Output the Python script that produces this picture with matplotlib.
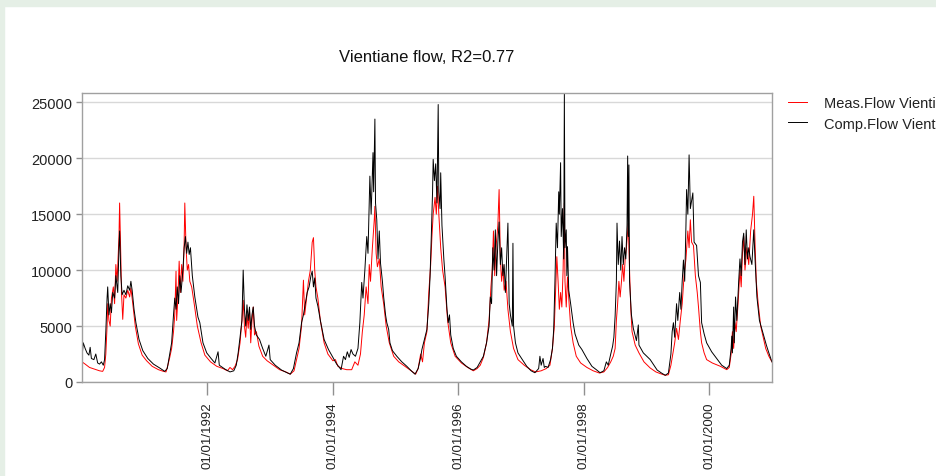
#!/usr/bin/env python3

import datetime as dt
import numpy as np
import matplotlib
matplotlib.use('Agg')
from matplotlib import pyplot as plt
import matplotlib.dates as mdates
from matplotlib.patches import Rectangle

plt.rcParams['font.family'] = ['Liberation Sans', 'DejaVu Sans']

TITLE = 'Vientiane flow, R2=0.77'
LABELS = ['Meas.Flow Vientiane', 'Comp.Flow Vientiane']
YTICKS = [0, 5000, 10000, 15000, 20000, 25000]
XTICK_YEARS = [1992, 1994, 1996, 1998, 2000]

meas_t = [1990.00, 1990.05, 1990.12, 1990.20, 1990.28, 1990.33, 1990.36, 1990.38, 1990.40, 1990.41, 1990.43, 1990.45, 1990.47, 1990.50, 1990.52, 1990.54, 1990.56, 1990.59, 1990.60, 1990.62, 1990.63, 1990.65, 1990.67, 1990.70, 1990.73, 1990.76, 1990.78, 1990.81, 1990.85, 1990.90, 1990.96,
          1991.03, 1991.12, 1991.22, 1991.30, 1991.34, 1991.37, 1991.40, 1991.43, 1991.46, 1991.48, 1991.50, 1991.51, 1991.53, 1991.55, 1991.57, 1991.59, 1991.61, 1991.63, 1991.64, 1991.66, 1991.68, 1991.70, 1991.72, 1991.75, 1991.79, 1991.84, 1991.90, 1991.96,
          1992.05, 1992.15, 1992.25, 1992.32, 1992.36, 1992.40, 1992.44, 1992.48, 1992.52, 1992.55, 1992.57, 1992.59, 1992.61, 1992.63, 1992.65, 1992.67, 1992.69, 1992.71, 1992.73, 1992.75, 1992.78, 1992.82, 1992.88, 1992.95,
          1993.05, 1993.15, 1993.25, 1993.32, 1993.38, 1993.42, 1993.46, 1993.50, 1993.53, 1993.55, 1993.58, 1993.61, 1993.64, 1993.67, 1993.69, 1993.71, 1993.73, 1993.76, 1993.80, 1993.86, 1993.92,
          1994.00, 1994.04, 1994.08, 1994.15, 1994.22, 1994.30, 1994.35, 1994.40, 1994.44, 1994.47, 1994.50, 1994.53, 1994.56, 1994.58, 1994.60, 1994.63, 1994.66, 1994.67, 1994.69, 1994.71, 1994.74, 1994.77, 1994.81, 1994.85, 1994.90, 1994.97,
          1995.05, 1995.15, 1995.25, 1995.32, 1995.36, 1995.40, 1995.43, 1995.46, 1995.50, 1995.53, 1995.56, 1995.58, 1995.60, 1995.63, 1995.65, 1995.67, 1995.69, 1995.72, 1995.75, 1995.79, 1995.83, 1995.88, 1995.95,
          1996.05, 1996.15, 1996.24, 1996.30, 1996.35, 1996.40, 1996.45, 1996.49, 1996.52, 1996.54, 1996.56, 1996.58, 1996.60, 1996.63, 1996.65, 1996.67, 1996.69, 1996.71, 1996.73, 1996.76, 1996.79, 1996.83, 1996.88, 1996.95,
          1997.05, 1997.15, 1997.23, 1997.32, 1997.40, 1997.46, 1997.50, 1997.53, 1997.55, 1997.57, 1997.59, 1997.61, 1997.63, 1997.65, 1997.67, 1997.69, 1997.70, 1997.72, 1997.74, 1997.76, 1997.79, 1997.83, 1997.88, 1997.95,
          1998.05, 1998.15, 1998.25, 1998.32, 1998.38, 1998.43, 1998.47, 1998.50, 1998.52, 1998.54, 1998.56, 1998.58, 1998.60, 1998.62, 1998.64, 1998.66, 1998.68, 1998.71, 1998.73, 1998.75, 1998.77, 1998.82, 1998.88, 1998.96,
          1999.06, 1999.15, 1999.22, 1999.30, 1999.35, 1999.39, 1999.42, 1999.45, 1999.48, 1999.51, 1999.54, 1999.57, 1999.60, 1999.63, 1999.66, 1999.68, 1999.70, 1999.72, 1999.75, 1999.78, 1999.81, 1999.83, 1999.86, 1999.88, 1999.92, 1999.96,
          2000.05, 2000.18, 2000.28, 2000.32, 2000.35, 2000.37, 2000.39, 2000.41, 2000.43, 2000.46, 2000.49, 2000.51, 2000.53, 2000.55, 2000.57, 2000.60, 2000.63, 2000.66, 2000.69, 2000.71, 2000.73, 2000.75, 2000.78, 2000.82, 2000.86, 2000.90, 2000.95, 2000.999]
meas_q = [1800, 1600, 1300, 1150, 1000, 950, 1300, 2500, 5000, 7000, 5500, 5000, 7500, 8500, 7000, 10500, 9000, 13000, 16000, 11000, 8000, 5600, 7800, 7500, 8200, 7600, 8400, 7000, 5000, 3400, 2400,
          1900, 1400, 1100, 950, 900, 1500, 2200, 3000, 4500, 6000, 9900, 5500, 7500, 10800, 8000, 10500, 9000, 12500, 16000, 12000, 10000, 10500, 9000, 8500, 7000, 5000, 3500, 2400,
          1800, 1400, 1200, 1000, 1300, 1100, 1400, 2000, 3500, 5500, 7300, 5000, 4000, 6000, 4800, 6500, 3500, 5500, 6700, 4200, 4500, 3200, 2300, 1900,
          1500, 1100, 900, 700, 1000, 2000, 3000, 5000, 9100, 6000, 7500, 9000, 10000, 12500, 12900, 10000, 8500, 7500, 5500, 3500, 2500,
          1900, 2000, 1400, 1200, 1100, 1100, 1800, 1500, 2500, 4500, 6000, 8500, 7000, 10500, 9000, 12000, 14500, 15700, 11500, 10300, 11000, 8500, 7000, 5000, 3500, 2300,
          1800, 1400, 1000, 700, 1200, 2500, 1800, 3500, 4500, 8000, 10500, 13000, 15000, 16500, 15000, 17500, 15000, 12000, 10000, 8500, 5500, 3500, 2300,
          1700, 1300, 1000, 1200, 1500, 2200, 3500, 5500, 8500, 10000, 13500, 9500, 12000, 14000, 17200, 11000, 9000, 10500, 8200, 9000, 6500, 4500, 3000, 2000,
          1500, 1100, 900, 1000, 1200, 1500, 3000, 5000, 8000, 11200, 9000, 6500, 8000, 6700, 10000, 16000, 9000, 6700, 9400, 7500, 5000, 3500, 2300, 1700,
          1300, 1000, 800, 900, 1300, 1800, 2300, 3000, 5500, 7000, 9000, 7600, 8900, 10500, 9000, 11000, 12000, 14200, 10000, 6500, 4500, 3300, 2600, 1800,
          1250, 900, 750, 600, 650, 1500, 2500, 3500, 4800, 3800, 5500, 7000, 9500, 11000, 13500, 12000, 14500, 12500, 12200, 9500, 8000, 6700, 4500, 3500, 2600, 2000,
          1700, 1400, 1100, 1300, 2500, 4500, 3000, 5300, 4500, 7000, 10000, 8500, 11500, 13000, 10000, 12000, 10500, 13500, 15000, 16600, 12400, 9000, 7000, 5000, 4000, 3000, 2300, 1800]

# computed flow
comp_t = [1990.00, 1990.02, 1990.05, 1990.08, 1990.11, 1990.13, 1990.15, 1990.19, 1990.22, 1990.25, 1990.28, 1990.31, 1990.34, 1990.36, 1990.38, 1990.40, 1990.41, 1990.43, 1990.45, 1990.47, 1990.49, 1990.52, 1990.54, 1990.57, 1990.59, 1990.60, 1990.62, 1990.64, 1990.67, 1990.70, 1990.73, 1990.76, 1990.78, 1990.80, 1990.83, 1990.86, 1990.91, 1990.97,
          1991.05, 1991.14, 1991.24, 1991.32, 1991.36, 1991.40, 1991.43, 1991.46, 1991.48, 1991.50, 1991.52, 1991.54, 1991.56, 1991.58, 1991.61, 1991.63, 1991.65, 1991.67, 1991.69, 1991.71, 1991.73, 1991.76, 1991.80, 1991.85, 1991.88, 1991.93, 1991.99,
          1992.06, 1992.12, 1992.17, 1992.19, 1992.28, 1992.36, 1992.42, 1992.46, 1992.49, 1992.52, 1992.55, 1992.57, 1992.59, 1992.61, 1992.63, 1992.65, 1992.67, 1992.69, 1992.71, 1992.73, 1992.75, 1992.78, 1992.83, 1992.88, 1992.93, 1992.98,
          1993.00, 1993.08, 1993.18, 1993.26, 1993.32, 1993.37, 1993.42, 1993.46, 1993.50, 1993.53, 1993.56, 1993.59, 1993.62, 1993.65, 1993.67, 1993.69, 1993.71, 1993.73, 1993.76, 1993.80, 1993.86, 1993.93,
          1994.01, 1994.06, 1994.09, 1994.13, 1994.17, 1994.20, 1994.23, 1994.26, 1994.29, 1994.32, 1994.36, 1994.40, 1994.43, 1994.46, 1994.48, 1994.51, 1994.54, 1994.56, 1994.59, 1994.61, 1994.64, 1994.65, 1994.67, 1994.68, 1994.70, 1994.72, 1994.74, 1994.76, 1994.79, 1994.81, 1994.84, 1994.86, 1994.89, 1994.91, 1994.95,
          1995.02, 1995.10, 1995.18, 1995.25, 1995.31, 1995.36, 1995.40, 1995.42, 1995.46, 1995.50, 1995.53, 1995.55, 1995.57, 1995.59, 1995.60, 1995.62, 1995.64, 1995.66, 1995.68, 1995.69, 1995.71, 1995.72, 1995.74, 1995.77, 1995.79, 1995.82, 1995.84, 1995.86, 1995.88, 1995.92, 1995.97,
          1996.05, 1996.13, 1996.20, 1996.24, 1996.30, 1996.35, 1996.40, 1996.45, 1996.49, 1996.51, 1996.53, 1996.55, 1996.57, 1996.59, 1996.61, 1996.63, 1996.65, 1996.67, 1996.69, 1996.71, 1996.73, 1996.75, 1996.77, 1996.79, 1996.81, 1996.83, 1996.86, 1996.87, 1996.88, 1996.91, 1996.95,
          1997.02, 1997.09, 1997.16, 1997.22, 1997.28, 1997.30, 1997.32, 1997.35, 1997.37, 1997.39, 1997.43, 1997.47, 1997.50, 1997.52, 1997.54, 1997.56, 1997.58, 1997.60, 1997.61, 1997.63, 1997.64, 1997.66, 1997.68, 1997.69, 1997.70, 1997.72, 1997.73, 1997.74, 1997.76, 1997.79, 1997.83, 1997.86, 1997.92, 1997.97,
          1998.05, 1998.13, 1998.20, 1998.26, 1998.32, 1998.36, 1998.39, 1998.43, 1998.46, 1998.48, 1998.50, 1998.52, 1998.53, 1998.55, 1998.57, 1998.59, 1998.61, 1998.63, 1998.65, 1998.67, 1998.69, 1998.70, 1998.71, 1998.72, 1998.73, 1998.76, 1998.79, 1998.84, 1998.87, 1998.88, 1998.95,
          1999.06, 1999.12, 1999.17, 1999.24, 1999.30, 1999.35, 1999.39, 1999.41, 1999.43, 1999.45, 1999.48, 1999.50, 1999.53, 1999.55, 1999.57, 1999.59, 1999.61, 1999.63, 1999.64, 1999.66, 1999.68, 1999.70, 1999.74, 1999.76, 1999.80, 1999.83, 1999.86, 1999.88, 1999.92, 1999.96,
          2000.04, 2000.12, 2000.20, 2000.28, 2000.32, 2000.35, 2000.36, 2000.37, 2000.39, 2000.40, 2000.42, 2000.44, 2000.47, 2000.49, 2000.51, 2000.53, 2000.55, 2000.57, 2000.59, 2000.61, 2000.63, 2000.65, 2000.68, 2000.71, 2000.73, 2000.76, 2000.80, 2000.84, 2000.87, 2000.91, 2000.95, 2000.999]
comp_q = [2200, 3500, 3000, 2600, 2400, 3100, 2100, 2000, 2500, 1700, 1600, 1800, 1500, 2000, 4500, 7500, 8500, 6000, 7000, 6200, 8000, 7500, 9500, 8000, 12100, 13500, 9500, 7800, 8200, 7800, 8600, 8200, 9000, 8200, 6500, 5300, 3800, 2800,
          2100, 1600, 1250, 950, 1200, 2500, 3500, 6000, 7500, 6500, 8500, 7000, 9500, 8000, 10000, 12000, 13000, 11500, 12500, 11400, 12000, 9500, 7600, 5800, 5300, 3500, 2600,
          2100, 1700, 2700, 1500, 1150, 900, 1000, 1500, 2600, 4000, 5500, 10000, 6500, 5000, 6900, 5500, 6700, 4700, 6000, 6700, 5000, 4200, 3800, 3000, 2300, 3300,
          2000, 1500, 1070, 850, 700, 1200, 2600, 3500, 5300, 6000, 7000, 8000, 8500, 9500, 9900, 8500, 9300, 7500, 6800, 5500, 3800, 2900,
          2100, 1600, 1400, 1100, 2300, 2000, 2700, 2200, 2900, 2500, 2300, 3000, 5300, 8900, 7500, 10000, 13000, 11500, 18400, 15000, 20500, 17000, 23500, 16000, 14500, 11000, 13500, 10600, 9000, 7600, 6000, 5300, 4700, 3500, 2800,
          2300, 1800, 1400, 1000, 700, 1200, 2200, 2900, 3800, 4700, 7000, 9400, 13000, 17000, 19900, 18000, 19500, 16000, 24800, 17000, 15500, 18700, 14000, 11000, 9400, 6500, 5300, 6000, 4200, 3000, 2300,
          1800, 1400, 1150, 1070, 1300, 1800, 2300, 3500, 5000, 7600, 7000, 12000, 10000, 13600, 9500, 12500, 14300, 10500, 12000, 9500, 10500, 8000, 11000, 14200, 7000, 6000, 5000, 12400, 5000, 3500, 2600,
          2000, 1400, 1000, 830, 1200, 2300, 1500, 2100, 1300, 1400, 1300, 2000, 3000, 4700, 9000, 14200, 12000, 17000, 15000, 19600, 13000, 15500, 11000, 25800, 12000, 13600, 9500, 12100, 8200, 7000, 5300, 4300, 3300, 2900,
          2100, 1400, 1100, 830, 1000, 1800, 1500, 2500, 3200, 4000, 5900, 9000, 14200, 10500, 12600, 10000, 13000, 10500, 12000, 11000, 14000, 20200, 13000, 19400, 9000, 6000, 4800, 3700, 5100, 3300, 2600,
          2000, 1500, 1070, 800, 600, 800, 2500, 4500, 5300, 4000, 7000, 5500, 8000, 6500, 9000, 10900, 9000, 14000, 17200, 15000, 20300, 15500, 16900, 12500, 12200, 9500, 8900, 5300, 4300, 3500,
          2700, 2100, 1500, 1200, 1500, 3000, 4100, 2600, 6700, 3500, 7600, 5500, 9000, 11000, 9500, 12500, 13300, 10500, 13600, 11000, 12000, 11200, 10500, 13600, 11000, 7600, 5500, 4700, 4100, 3300, 2600, 1800]

assert len(meas_t) == len(meas_q) and len(comp_t) == len(comp_q)


def yr2date(t):
    y = int(t)
    d0 = dt.datetime(y, 1, 1)
    ndays = (dt.datetime(y + 1, 1, 1) - d0).days
    return d0 + dt.timedelta(days=(t - y) * ndays)


W, H = 937, 477
fig = plt.figure(figsize=(W / 100., H / 100.), dpi=100, facecolor='white')

# pale green frame of the original screenshot (top and left edges)
fig.patches.append(Rectangle((0, 1 - 7. / H), 1, 7. / H, transform=fig.transFigure,
                             color='#e5efe6', zorder=-10))
fig.patches.append(Rectangle((0, 0), 4. / W, 1, transform=fig.transFigure,
                             color='#e5efe6', zorder=-10))

ax = fig.add_axes([82. / W, 94. / H, 690. / W, 289. / H])

mt = [yr2date(t) for t in meas_t]
ct = [yr2date(t) for t in comp_t]
ax.plot(mt, meas_q, color='#ff0000', lw=0.7, label=LABELS[0])
ax.plot(ct, comp_q, color='#000000', lw=0.7, label=LABELS[1])

ax.set_xlim(dt.datetime(1990, 1, 1), dt.datetime(2001, 1, 1))
ax.set_ylim(0, 25830)

ax.set_yticks(YTICKS)
ax.set_yticklabels([str(v) for v in YTICKS])
ax.yaxis.grid(True, color='#d8d8d8', lw=1.0)
ax.set_axisbelow(True)

ax.set_xticks([dt.datetime(y, 1, 1) for y in XTICK_YEARS])
ax.xaxis.set_major_formatter(mdates.DateFormatter('%d/%m/%Y'))

for s in ax.spines.values():
    s.set_color('#a0a0a0')
    s.set_linewidth(1.0)

ax.tick_params(axis='y', length=4, width=1, color='#909090', labelsize=10.5,
               labelcolor='#222222', pad=3)
ax.tick_params(axis='x', length=9, width=1, color='#909090', labelsize=9.5,
               labelcolor='#222222', pad=5, labelrotation=90)

fig.text(427. / W, 1 - 58. / H, TITLE, ha='center', va='center', fontsize=12,
         color='#111111')

leg = ax.legend(loc='upper left', bbox_to_anchor=(1.01, 1.02), frameon=False,
                fontsize=10.5, handlelength=1.3, handletextpad=1.2,
                labelspacing=0.45, borderaxespad=0.2)
for t in leg.get_texts():
    t.set_color('#222222')

plt.savefig('out.png', dpi=100, facecolor=fig.get_facecolor())
